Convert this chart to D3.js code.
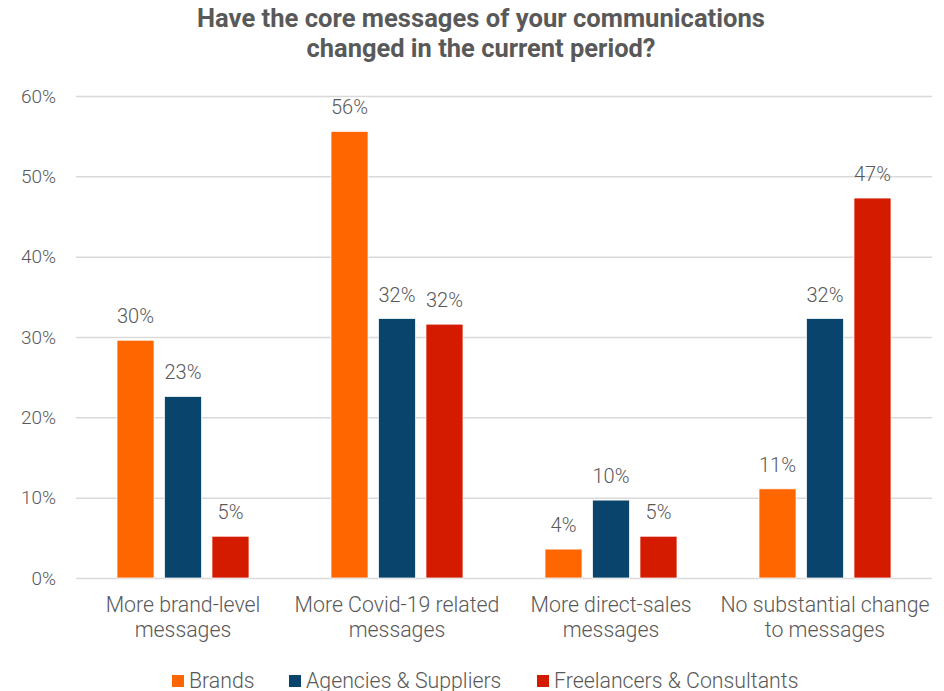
<!DOCTYPE html>
<html>
<head>
<meta charset="utf-8">
<script src="https://cdn.jsdelivr.net/npm/d3@7"></script>
<style>
  html, body { margin: 0; padding: 0; background: #fff; }
  svg { display: block; }
  text { font-family: Roboto, "Noto Sans", sans-serif; fill: #595959; }
</style>
</head>
<body>
<svg id="chart" width="944" height="691"></svg>
<script>
// Survey answers (share of respondents)
const categories = [
  ["More brand-level", "messages"],
  ["More Covid-19 related", "messages"],
  ["More direct-sales", "messages"],
  ["No substantial change", "to messages"]
];
const seriesNames = ["Brands", "Agencies & Suppliers", "Freelancers & Consultants"];
const seriesColors = ["#FF6600", "#08446B", "#D41B00"];
const brands      = [0.296, 0.556, 0.036, 0.111];
const agencies    = [0.226, 0.323, 0.097, 0.323];
const freelancers = [0.052, 0.316, 0.052, 0.473];
const yTicks = [0, 0.1, 0.2, 0.3, 0.4, 0.5, 0.6];
const titleLines = ["Have the core messages of your communications", "changed in the current period?"];

const series = [brands, agencies, freelancers];
const svg = d3.select("#chart");
const margin = { left: 76, right: 12, top: 96, bottom: 113 };
const width = 944, height = 691;
const innerW = width - margin.left - margin.right;
const innerH = height - margin.top - margin.bottom;

const x0 = d3.scaleBand().domain(d3.range(categories.length))
  .range([margin.left, margin.left + innerW]).paddingInner(0).paddingOuter(0);
const x1 = d3.scaleBand().domain(d3.range(series.length))
  .range([41, x0.bandwidth() - 41]).paddingInner(0.22).paddingOuter(0);
const y = d3.scaleLinear().domain([0, 0.6]).range([margin.top + innerH, margin.top]);
const pct = d3.format(".0%");

// Title: bold, narrowed to a condensed width
const title = svg.append("g");
titleLines.forEach((line, i) => {
  const t = title.append("text")
    .attr("x", 481).attr("y", 27 + i * 30)
    .attr("text-anchor", "middle")
    .style("font-size", "25px").style("font-weight", "700")
    .text(line);
  const target = i === 0 ? 568 : 349;
  t.attr("textLength", target).attr("lengthAdjust", "spacingAndGlyphs");
});

// Gridlines + y axis
const yAxis = d3.axisLeft(y).tickValues(yTicks).tickFormat(pct)
  .tickSize(-innerW).tickPadding(20);
const gy = svg.append("g").attr("transform", `translate(${margin.left},0)`).call(yAxis);
gy.select(".domain").remove();
gy.selectAll(".tick line").attr("stroke", "#d9d9d9").attr("stroke-width", 1.5);
gy.selectAll(".tick text").style("font-size", "19px").style("font-weight", "300")
  .attr("fill", "#595959");

// Bars
const groups = svg.append("g").selectAll("g").data(categories).join("g")
  .attr("transform", (d, i) => `translate(${x0(i)},0)`);

groups.each(function (d, ci) {
  const g = d3.select(this);
  series.forEach((vals, si) => {
    g.append("rect")
      .attr("x", x1(si)).attr("width", x1.bandwidth())
      .attr("y", y(vals[ci])).attr("height", y(0) - y(vals[ci]))
      .attr("fill", seriesColors[si])
      .attr("stroke", "#fff").attr("stroke-width", 0.75);
    g.append("text")
      .attr("x", x1(si) + x1.bandwidth() / 2).attr("y", y(vals[ci]) - 17)
      .attr("text-anchor", "middle")
      .style("font-size", "20px").style("font-weight", "300")
      .text(pct(vals[ci]));
  });
  // Category label
  d.forEach((line, li) => {
    g.append("text")
      .attr("x", x0.bandwidth() / 2).attr("y", 612 + li * 25)
      .attr("text-anchor", "middle")
      .style("font-size", "21.3px").style("font-weight", "300")
      .text(line);
  });
});

// Legend
const legendX = [172, 289, 537];
const legend = svg.append("g");
seriesNames.forEach((name, i) => {
  legend.append("rect").attr("x", legendX[i]).attr("y", 675)
    .attr("width", 12).attr("height", 12).attr("fill", seriesColors[i]);
  legend.append("text").attr("x", legendX[i] + 17).attr("y", 688)
    .style("font-size", "21.3px").style("font-weight", "300")
    .text(name);
});
</script>
</body>
</html>
